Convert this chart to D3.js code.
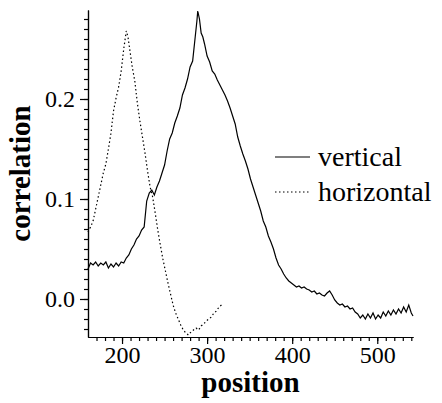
<!DOCTYPE html>
<html>
<head>
<meta charset="utf-8">
<script src="https://cdnjs.cloudflare.com/ajax/libs/d3/7.8.5/d3.min.js"></script>
<style>
  body { margin: 0; background: #fff; }
  svg text { font-family: "Liberation Serif", "DejaVu Serif", serif !important; }
</style>
</head>
<body>
<script>
// vertical (solid) series
let vPos = [160,163,166,169,172,175,178,181,184,187,190,193,196,199,202,205,208,211,214,217,220,223,226,229,232,235,238,241,244,247,250,253,256,259,262,265,268,271,274,277,280,283,286,288,289,291,293,295,297,300,303,306,309,312,315,318,321,324,327,330,333,336,339,342,345,348,351,354,357,360,363,366,369,372,375,378,381,384,387,390,393,396,399,402,405,408,411,414,417,420,423,426,429,432,435,438,441,444,447,450,453,456,459,462,465,468,471,474,477,480,483,486,489,492,495,498,501,504,507,510,513,516,519,522,525,528,531,534,537,540,542];
let vVal = [0.030,0.036,0.034,0.037,0.033,0.036,0.034,0.037,0.031,0.035,0.032,0.036,0.033,0.037,0.036,0.041,0.044,0.050,0.054,0.060,0.063,0.069,0.072,0.098,0.106,0.109,0.104,0.112,0.118,0.126,0.134,0.148,0.160,0.166,0.176,0.183,0.191,0.204,0.211,0.220,0.232,0.238,0.262,0.278,0.288,0.280,0.266,0.262,0.255,0.243,0.237,0.228,0.225,0.219,0.214,0.209,0.204,0.198,0.191,0.183,0.175,0.162,0.153,0.145,0.138,0.130,0.120,0.112,0.104,0.096,0.088,0.078,0.072,0.063,0.057,0.050,0.041,0.034,0.030,0.025,0.021,0.018,0.016,0.014,0.012,0.013,0.011,0.012,0.010,0.009,0.007,0.008,0.005,0.006,0.004,0.003,0.006,0.008,0.004,-0.001,-0.004,-0.006,-0.005,-0.008,-0.007,-0.010,-0.009,-0.013,-0.015,-0.019,-0.016,-0.020,-0.015,-0.019,-0.014,-0.020,-0.016,-0.019,-0.013,-0.017,-0.012,-0.016,-0.011,-0.015,-0.010,-0.014,-0.008,-0.013,-0.006,-0.014,-0.017];

// horizontal (dotted) series
let hPos = [160,163,166,169,172,175,178,181,184,187,190,193,196,199,202,204,205,207,209,212,215,218,221,224,227,230,233,236,239,242,245,248,251,254,257,260,263,266,269,272,275,278,281,284,287,290,293,296,299,302,305,308,311,314,317,318];
let hVal = [0.067,0.072,0.078,0.090,0.102,0.114,0.126,0.135,0.150,0.166,0.188,0.201,0.212,0.228,0.250,0.262,0.268,0.262,0.250,0.232,0.218,0.196,0.178,0.162,0.146,0.128,0.112,0.102,0.086,0.069,0.054,0.040,0.028,0.016,0.005,-0.006,-0.014,-0.020,-0.026,-0.031,-0.034,-0.036,-0.033,-0.031,-0.029,-0.031,-0.027,-0.025,-0.022,-0.020,-0.018,-0.014,-0.012,-0.008,-0.006,-0.007];

let xTicks = [200,300,400,500];
let yTicks = [0.0,0.1,0.2];
let legendNames = ['vertical','horizontal'];

let w = 442, h = 403;
let mLeft = 88, mRight = 413, mTop = 10, mBottom = 337;
let serif = '"Liberation Serif", "DejaVu Serif", serif';

let svg = d3.select('body')
    .append('svg')
    .attr('width',w)
    .attr('height',h)
    .attr('font-family',serif)

let x = d3.scaleLinear()
    .domain([160,542])
    .range([mLeft,mRight])

let y = d3.scaleLinear()
    .domain([-0.038,0.289])
    .range([mBottom,mTop])

// minor ticks first, majors on top
svg.append('g')
    .attr('transform',`translate(0,${mBottom})`)
    .call(d3.axisBottom(x).tickValues(d3.range(170,541,10)).tickSize(4).tickSizeOuter(0).tickFormat(''))

svg.append('g')
    .attr('transform',`translate(${mLeft},0)`)
    .call(d3.axisLeft(y).tickValues(d3.range(-3,29).map(d=>d/100)).tickSize(4).tickSizeOuter(0).tickFormat(''))

let xAxis = svg.append('g')
    .attr('transform',`translate(0,${mBottom})`)
    .call(d3.axisBottom(x).tickValues(xTicks).tickSize(7).tickSizeOuter(0).tickPadding(2))

let yAxis = svg.append('g')
    .attr('transform',`translate(${mLeft},0)`)
    .call(d3.axisLeft(y).tickValues(yTicks).tickSize(8).tickSizeOuter(0).tickPadding(5).tickFormat(d3.format('.1f')))

svg.selectAll('g').attr('font-family',serif).attr('font-size',null)

svg.selectAll('.tick text')
    .attr('font-family',serif)
    .style('font-size','24px')
    .attr('fill','#000')

svg.selectAll('.domain, .tick line').attr('stroke','#000').attr('stroke-width',1.2)

let line = d3.line()
    .x(d=>x(d[0]))
    .y(d=>y(d[1]))

svg.append('path')
    .datum(vPos.map((p,i)=>[p,vVal[i]]))
    .attr('d',line)
    .attr('fill','none')
    .attr('stroke','#000')
    .attr('stroke-width',1.2)

svg.append('path')
    .datum(hPos.map((p,i)=>[p,hVal[i]]))
    .attr('d',line)
    .attr('fill','none')
    .attr('stroke','#000')
    .attr('stroke-width',1.2)
    .attr('stroke-dasharray','1.5,2.5')

// axis titles
svg.append('text')
    .text('position')
    .attr('x',(mLeft+mRight)/2)
    .attr('y',392)
    .attr('font-family',serif)
    .style('text-anchor','middle')
    .style('font-size','29px')
    .style('font-weight','bold')

svg.append('text')
    .text('correlation')
    .attr('transform',`translate(30,${(mTop+mBottom)/2}) rotate(-90)`)
    .attr('font-family',serif)
    .style('text-anchor','middle')
    .style('font-size','29px')
    .style('font-weight','bold')

// legend
let legend = svg.append('g')
legendNames.forEach((name,i)=>{
    let ly = 157 + i*35
    legend.append('line')
        .attr('x1',275).attr('x2',310)
        .attr('y1',ly).attr('y2',ly)
        .attr('stroke','#000')
        .attr('stroke-width',1.2)
        .attr('stroke-dasharray',i==1 ? '1.5,2.5' : null)
    legend.append('text')
        .text(name)
        .attr('x',318)
        .attr('y',ly+9)
        .attr('font-family',serif)
        .style('font-size','28px')
})
</script>
</body>
</html>
